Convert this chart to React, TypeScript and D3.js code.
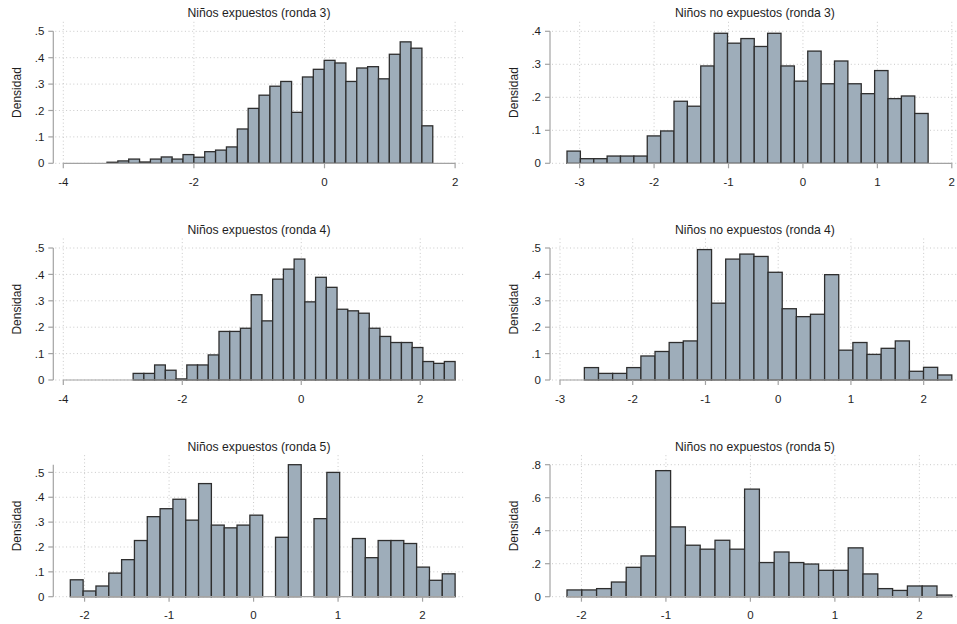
import React from "react";
import * as d3 from "d3";

// Panel titles, in reading order (row by row, left then right)
const titles = [
  "Niños expuestos (ronda 3)",
  "Niños no expuestos (ronda 3)",
  "Niños expuestos (ronda 4)",
  "Niños no expuestos (ronda 4)",
  "Niños expuestos (ronda 5)",
  "Niños no expuestos (ronda 5)",
];

// Histogram densities per bin
const expuestosR3 = [
  0.004, 0.009, 0.016, 0.005, 0.016, 0.024, 0.016, 0.033, 0.023, 0.044,
  0.05, 0.062, 0.13, 0.208, 0.258, 0.292, 0.31, 0.193, 0.327, 0.356,
  0.39, 0.38, 0.31, 0.361, 0.366, 0.32, 0.413, 0.46, 0.436, 0.142,
];
const noExpuestosR3 = [
  0.037, 0.014, 0.014, 0.022, 0.022, 0.022, 0.083, 0.098, 0.188, 0.173,
  0.295, 0.394, 0.364, 0.378, 0.354, 0.394, 0.295, 0.249, 0.34, 0.241,
  0.31, 0.241, 0.211, 0.281, 0.196, 0.204, 0.151,
];
const expuestosR4 = [
  0.025, 0.025, 0.057, 0.037, 0.004, 0.057, 0.057, 0.095, 0.184, 0.184,
  0.196, 0.323, 0.224, 0.382, 0.42, 0.458, 0.296, 0.389, 0.351, 0.268,
  0.262, 0.253, 0.196, 0.165, 0.142, 0.142, 0.123, 0.07, 0.063, 0.07,
];
const noExpuestosR4 = [
  0.047, 0.025, 0.025, 0.047, 0.091, 0.108, 0.142, 0.148, 0.494, 0.291,
  0.458, 0.477, 0.468, 0.408, 0.27, 0.24, 0.249, 0.399, 0.113, 0.142,
  0.097, 0.12, 0.148, 0.033, 0.048, 0.019,
];
const expuestosR5 = [
  0.068, 0.023, 0.043, 0.095, 0.149, 0.226, 0.322, 0.354, 0.392, 0.308,
  0.455, 0.288, 0.277, 0.288, 0.328, 0, 0.239, 0.531, 0, 0.314,
  0.5, 0, 0.234, 0.157, 0.226, 0.226, 0.214, 0.119, 0.066, 0.092,
];
const noExpuestosR5 = [
  0.041, 0.041, 0.049, 0.089, 0.178, 0.247, 0.764, 0.423, 0.312, 0.288,
  0.342, 0.288, 0.652, 0.207, 0.271, 0.207, 0.198, 0.16, 0.16, 0.296,
  0.138, 0.049, 0.038, 0.065, 0.065, 0.01,
];

const densities = [
  expuestosR3, noExpuestosR3,
  expuestosR4, noExpuestosR4,
  expuestosR5, noExpuestosR5,
];

// Left edge of the first bin and common bin width
const binStart = [-3.331, -3.17, -2.826, -2.665, -2.169, -2.171];
const binWidth = [0.1663, 0.1797, 0.1804, 0.1943, 0.1518, 0.1752];

// Axis ticks
const xTicks = [
  [-4, -2, 0, 2],
  [-3, -2, -1, 0, 1, 2],
  [-4, -2, 0, 2],
  [-3, -2, -1, 0, 1, 2],
  [-2, -1, 0, 1, 2],
  [-2, -1, 0, 1, 2],
];
const yTicks = [
  [0, 0.1, 0.2, 0.3, 0.4, 0.5],
  [0, 0.1, 0.2, 0.3, 0.4],
  [0, 0.1, 0.2, 0.3, 0.4, 0.5],
  [0, 0.1, 0.2, 0.3, 0.4, 0.5],
  [0, 0.1, 0.2, 0.3, 0.4, 0.5],
  [0, 0.2, 0.4, 0.6, 0.8],
];
const yTitle = "Densidad";

// Layout
const W = 957;
const H = 624;
const colAxisX = [53.3, 550];
const rowBase = [163.3, 380, 596.7];
const plotH = 132;
const FONT = "'Liberation Sans', Arial, Helvetica, sans-serif";
const BAR_FILL = "#9eadba";
const BAR_STROKE = "#2e2e2e";
const AXIS = "#a3a3a3";
const GRID = "#c9c9c9";
const TEXT = "#1e1e1e";

const fmtY = (v: number) => (v === 0 ? "0" : String(v).replace(/^0/, ""));

function Panel({ i }: { i: number }) {
  const col = i % 2;
  const row = Math.floor(i / 2);
  const axisX = colAxisX[col];
  const base = rowBase[row];
  const values = densities[i];
  const xt = xTicks[i];
  const yt = yTicks[i];
  const n = values.length;
  const dataLo = binStart[i];
  const dataHi = binStart[i] + n * binWidth[i];
  const lo = Math.min(xt[0], dataLo);
  const hi = Math.max(xt[xt.length - 1], dataHi);
  const x0 = axisX + (lo === xt[0] ? 10 : 17);
  const x1 = axisX + 401.8;
  const x = d3.scaleLinear().domain([lo, hi]).range([x0, x1]);
  const yMax = Math.max(yt[yt.length - 1], d3.max(values) as number);
  const y = d3.scaleLinear().domain([0, yMax]).range([base, base - plotH]);
  const regionTop = base - plotH - 9.5;
  const gridL = axisX + 2;
  const gridR = axisX + 412;

  const bins = values.map((v, k) => ({
    a: binStart[i] + k * binWidth[i],
    b: binStart[i] + (k + 1) * binWidth[i],
    v,
  }));

  return (
    <g>
      {/* dotted grid */}
      {yt.map((t) => (
        <line
          key={"gy" + t}
          x1={gridL}
          x2={gridR}
          y1={y(t)}
          y2={y(t)}
          stroke={GRID}
          strokeWidth={1}
          strokeDasharray="1,2.6"
        />
      ))}
      {xt.map((t) => (
        <line
          key={"gx" + t}
          x1={x(t)}
          x2={x(t)}
          y1={regionTop}
          y2={base}
          stroke={GRID}
          strokeWidth={1}
          strokeDasharray="1,2.6"
        />
      ))}

      {/* bars */}
      {bins
        .filter((d) => d.v > 0)
        .map((d, k) => (
          <rect
            key={"b" + k}
            x={x(d.a)}
            y={y(d.v)}
            width={x(d.b) - x(d.a)}
            height={base - y(d.v)}
            fill={BAR_FILL}
            stroke={BAR_STROKE}
            strokeWidth={1.3}
          />
        ))}

      {/* y axis */}
      <line x1={axisX} x2={axisX} y1={base} y2={y(yMax)} stroke={AXIS} strokeWidth={1.2} />
      {yt.map((t) => (
        <g key={"yt" + t}>
          <line x1={axisX - 5} x2={axisX} y1={y(t)} y2={y(t)} stroke={AXIS} strokeWidth={1.2} />
          <text
            x={axisX - 9}
            y={y(t)}
            dy="0.36em"
            textAnchor="end"
            fontSize={11.5}
            fontFamily={FONT}
            fill={TEXT}
          >
            {fmtY(t)}
          </text>
        </g>
      ))}
      <text
        transform={`translate(${axisX - 32.5},${(regionTop + base) / 2}) rotate(-90)`}
        textAnchor="middle"
        fontSize={12}
        fontFamily={FONT}
        fill={TEXT}
      >
        {yTitle}
      </text>

      {/* x axis */}
      <line x1={x(lo)} x2={x(hi)} y1={base} y2={base} stroke={AXIS} strokeWidth={1.2} />
      {xt.map((t) => (
        <g key={"xt" + t}>
          <line x1={x(t)} x2={x(t)} y1={base} y2={base + 5} stroke={AXIS} strokeWidth={1.2} />
          <text
            x={x(t)}
            y={base + 22.5}
            textAnchor="middle"
            fontSize={11.5}
            fontFamily={FONT}
            fill={TEXT}
          >
            {t}
          </text>
        </g>
      ))}

      {/* title */}
      <text
        x={col === 0 ? 259 : 755}
        y={base - 146}
        textAnchor="middle"
        fontSize={12.2}
        fontFamily={FONT}
        fill={TEXT}
      >
        {titles[i]}
      </text>
    </g>
  );
}

export default function App() {
  return (
    <svg
      width={W}
      height={H}
      viewBox={`0 0 ${W} ${H}`}
      style={{ position: "absolute", left: 0, top: 0, background: "#ffffff" }}
    >
      <rect x={0} y={0} width={W} height={H} fill="#ffffff" />
      {titles.map((_, i) => (
        <Panel key={i} i={i} />
      ))}
    </svg>
  );
}
